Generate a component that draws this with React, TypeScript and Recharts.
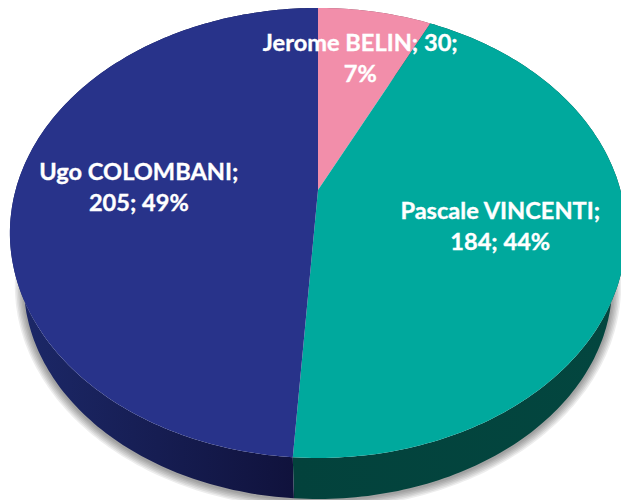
import React from 'react';
import { PieChart, Pie, Cell } from 'recharts';

const names = ['Jerome BELIN', 'Pascale VINCENTI', 'Ugo COLOMBANI'];
const values = [30, 184, 205];
const topColors = ['#f28eaa', '#00a99d', '#28338a'];
const wallColors = ['#7a4555', 'url(#wallTeal)', 'url(#wallNavy)'];
const labelLines = [
  ['Jerome BELIN; 30;', '7%'],
  ['Pascale VINCENTI;', '184; 44%'],
  ['Ugo COLOMBANI;', '205; 49%']
];
const labelRadius = [0.71, 0.605, 0.595];
const shadowWidths = [18, 15, 12, 9, 6, 3];

const data = names.map((name, i) => ({ name, value: values[i] }));

// the pie is tilted, so every angle goes through a perspective projection
const SPREAD_X = 302.4;
const SPREAD_Y = 216.8;
const TILT = 0.191;
const DEPTH = 41;
const WALL_SCALE = 0.955;
const BOTTOM_REACH = 268;

const project = (cx: number, cy: number, angle: number, r = 1) => {
  const theta = ((90 - angle) * Math.PI) / 180;
  const u = r * Math.sin(theta);
  const v = -r * Math.cos(theta);
  const w = 1 - TILT * v;
  return { x: cx + (SPREAD_X * u) / w, y: cy + (SPREAD_Y * v) / w };
};

const arcPoints = (start: number, end: number) => {
  const steps = Math.max(2, Math.ceil(Math.abs(end - start)));
  const out: number[] = [];
  for (let i = 0; i <= steps; i++) out.push(start + ((end - start) * i) / steps);
  return out;
};

const lowerRim = (cx: number, cy: number, angle: number) => {
  const p = project(cx, cy, angle);
  const shift = BOTTOM_REACH * (1 - WALL_SCALE) + DEPTH;
  return { x: cx + (p.x - cx) * WALL_SCALE, y: cy + shift + (p.y - cy) * WALL_SCALE };
};

const openPath = (pts: { x: number; y: number }[]) =>
  pts.map((p, i) => `${i ? 'L' : 'M'}${p.x.toFixed(1)} ${p.y.toFixed(1)}`).join(' ');
const toPath = (pts: { x: number; y: number }[]) => openPath(pts) + ' Z';

const TopSlice = (props: any) => {
  const { cx, cy, startAngle, endAngle, fill } = props;
  const rim = arcPoints(startAngle, endAngle).map((a) => project(cx, cy, a));
  return <path d={toPath([{ x: cx, y: cy }, ...rim])} fill={fill} stroke="none" />;
};

// wall of the slice, the grey shadow is a few faint strokes along the lower rim
const WallSlice = (props: any) => {
  const { cx, cy, startAngle, endAngle, fill } = props;
  const angles = arcPoints(startAngle, endAngle);
  const upper = angles.map((a) => project(cx, cy, a));
  const lower = angles.map((a) => lowerRim(cx, cy, a));
  return (
    <g>
      {shadowWidths.map((w) => (
        <path
          key={w}
          d={openPath(lower)}
          fill="none"
          stroke="#000"
          strokeWidth={w}
          strokeOpacity={0.07}
          transform="translate(0 1)"
        />
      ))}
      <path d={toPath([...upper, ...[...lower].reverse()])} fill={fill} stroke="none" />
    </g>
  );
};

const SliceLabel = (props: any) => {
  const { cx, cy, midAngle, index } = props;
  const p = project(cx, cy, midAngle, labelRadius[index]);
  return (
    <text
      x={p.x}
      y={p.y - 6}
      textAnchor="middle"
      fill="#fff"
      stroke="#fff"
      strokeWidth={0.35}
      fontFamily="Lato, sans-serif"
      fontWeight={700}
      fontSize={23.6}
    >
      {labelLines[index].map((line, i) => (
        <tspan key={line} x={p.x} dy={i ? 31 : 0}>
          {line}
        </tspan>
      ))}
    </text>
  );
};

export default function App() {
  return (
    <div style={{ width: 621, height: 500 }}>
      <style>{'body { margin: 0; }'}</style>
      <PieChart width={621} height={500} margin={{ top: 0, right: 0, bottom: 0, left: 0 }}>
        <defs>
          <linearGradient id="wallNavy" gradientUnits="userSpaceOnUse" x1="20" y1="0" x2="295" y2="0">
            <stop offset="0%" stopColor="#1c2868" />
            <stop offset="100%" stopColor="#10123c" />
          </linearGradient>
          <linearGradient id="wallTeal" gradientUnits="userSpaceOnUse" x1="295" y1="0" x2="610" y2="0">
            <stop offset="0%" stopColor="#03423c" />
            <stop offset="100%" stopColor="#03463f" />
          </linearGradient>
        </defs>
        <Pie
          data={data}
          dataKey="value"
          cx={318}
          cy={190}
          outerRadius={100}
          startAngle={90}
          endAngle={-270}
          stroke="none"
          shape={WallSlice}
          isAnimationActive={false}
        >
          {data.map((d, i) => (
            <Cell key={d.name} fill={wallColors[i]} />
          ))}
        </Pie>
        <Pie
          data={data}
          dataKey="value"
          cx={318}
          cy={190}
          outerRadius={100}
          startAngle={90}
          endAngle={-270}
          stroke="none"
          shape={TopSlice}
          label={SliceLabel}
          labelLine={false}
          isAnimationActive={false}
        >
          {data.map((d, i) => (
            <Cell key={d.name} fill={topColors[i]} />
          ))}
        </Pie>
      </PieChart>
    </div>
  );
}
